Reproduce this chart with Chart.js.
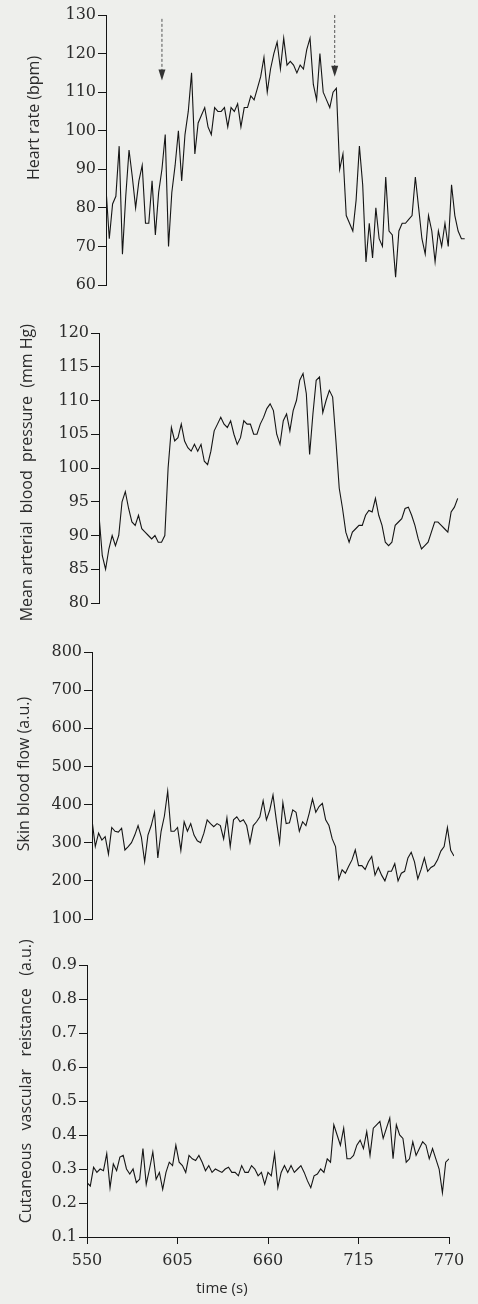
<!DOCTYPE html>
<html>
<head>
<meta charset="utf-8">
<script src="https://cdn.jsdelivr.net/npm/chart.js@4.4.1/dist/chart.umd.min.js"></script>
<style>
  body { margin: 0; background: #eeefec; }
  #wrap { position: relative; width: 478px; height: 1304px; overflow: hidden; }
  .panel { position: absolute; left: 0; width: 478px; }
</style>
</head>
<body>
<div id="wrap">
  <div class="panel" style="top:0;height:300px"><canvas id="hr"></canvas></div>
  <div class="panel" style="top:300px;height:330px"><canvas id="map"></canvas></div>
  <div class="panel" style="top:620px;height:320px"><canvas id="sbf"></canvas></div>
  <div class="panel" style="top:920px;height:384px"><canvas id="cvr"></canvas></div>
</div>
<script>
// time (s), every 2 s
const times = [
  550, 552, 554, 556, 558, 560, 562, 564, 566, 568,
  570, 572, 574, 576, 578, 580, 582, 584, 586, 588,
  590, 592, 594, 596, 598, 600, 602, 604, 606, 608,
  610, 612, 614, 616, 618, 620, 622, 624, 626, 628,
  630, 632, 634, 636, 638, 640, 642, 644, 646, 648,
  650, 652, 654, 656, 658, 660, 662, 664, 666, 668,
  670, 672, 674, 676, 678, 680, 682, 684, 686, 688,
  690, 692, 694, 696, 698, 700, 702, 704, 706, 708,
  710, 712, 714, 716, 718, 720, 722, 724, 726, 728,
  730, 732, 734, 736, 738, 740, 742, 744, 746, 748,
  750, 752, 754, 756, 758, 760, 762, 764, 766, 768,
  770
]

// heart rate (bpm)
const heartRate = [
  85, 72, 81, 83, 96, 68, 83, 95, 88, 80,
  87, 91, 76, 76, 87, 73, 84, 90, 99, 70,
  84, 91, 100, 87, 99, 105, 115, 94, 102, 104,
  106, 101, 99, 106, 105, 105, 106, 101, 106, 105,
  107, 101, 106, 106, 109, 108, 111, 114, 119, 110,
  116, 120, 123, 116, 124, 117, 118, 117, 115, 117,
  116, 121, 124, 112, 108, 120, 110, 108, 106, 110,
  111, 90, 94, 78, 76, 74, 82, 96, 86, 66,
  76, 67, 80, 72, 70, 88, 74, 73, 62, 74,
  76, 76, 77, 78, 88, 80, 72, 68, 78, 74,
  66, 74, 70, 76, 70, 86, 78, 74, 72, 72
]

// mean arterial blood pressure (mm Hg)
const meanPressure = [
  93, 87, 85, 88, 90, 88.5, 90, 95, 96.5, 94,
  92, 91.5, 93, 91, 90.5, 90, 89.5, 90, 89, 89,
  90, 100, 106, 104, 104.5, 106.5, 104, 103, 102.5, 103.5,
  102.5, 103.5, 101, 100.5, 102.5, 105.5, 106.5, 107.5, 106.5, 106,
  107, 105, 103.5, 104.5, 107, 106.5, 106.5, 105, 105, 106.5,
  107.5, 108.8, 109.5, 108.5, 105, 103.5, 107, 108, 105.5, 108.5,
  110, 113, 114, 111, 102, 108, 113, 113.5, 108.2, 110,
  111.5, 110.5, 104, 97, 94, 90.5, 89, 90.5, 91, 91.5,
  91.5, 93, 93.7, 93.5, 95.5, 93, 91.5, 89, 88.5, 89,
  91.5, 92, 92.5, 94, 94.2, 93, 91.5, 89.5, 88, 88.5,
  89, 90.5, 92, 92, 91.5, 91, 90.5, 93.5, 94.2, 95.5
]

// skin blood flow (a.u.)
const skinFlow = [
  360, 290, 325, 307, 316, 270, 340, 330, 328, 338,
  281, 290, 300, 320, 345, 315, 250, 320, 345, 380,
  260, 330, 370, 435, 330, 330, 340, 280, 355, 330,
  350, 320, 305, 300, 325, 360, 350, 342, 350, 345,
  310, 365, 290, 360, 368, 355, 360, 345, 300, 345,
  355, 368, 410, 360, 385, 425, 360, 300, 405, 350,
  352, 386, 380, 330, 355, 345, 377, 415, 380, 395,
  403, 360, 345, 310, 290, 205, 229, 220, 238, 255,
  281, 240, 240, 230, 250, 264, 215, 235, 215, 200,
  225, 225, 245, 200, 220, 225, 260, 275, 250, 205,
  230, 260, 225, 235, 240, 255, 278, 290, 340, 280,
  265
]

// cutaneous vascular resistance (a.u.)
const resistance = [
  0.26, 0.25, 0.305, 0.29, 0.30, 0.295, 0.345, 0.245, 0.315, 0.295,
  0.335, 0.34, 0.30, 0.285, 0.30, 0.26, 0.27, 0.36, 0.255, 0.30,
  0.35, 0.27, 0.29, 0.24, 0.29, 0.32, 0.31, 0.37, 0.32, 0.31,
  0.29, 0.34, 0.33, 0.325, 0.34, 0.32, 0.295, 0.31, 0.29, 0.30,
  0.295, 0.29, 0.30, 0.305, 0.29, 0.29, 0.28, 0.31, 0.29, 0.29,
  0.31, 0.30, 0.28, 0.29, 0.255, 0.29, 0.28, 0.345, 0.245, 0.29,
  0.31, 0.29, 0.31, 0.29, 0.30, 0.31, 0.29, 0.265, 0.245, 0.28,
  0.285, 0.30, 0.29, 0.33, 0.32, 0.43, 0.40, 0.37, 0.42, 0.33,
  0.33, 0.34, 0.37, 0.385, 0.36, 0.41, 0.34, 0.42, 0.43, 0.44,
  0.39, 0.42, 0.45, 0.33, 0.43, 0.40, 0.39, 0.32, 0.33, 0.38,
  0.34, 0.36, 0.38, 0.37, 0.33, 0.36, 0.33, 0.30, 0.23, 0.32,
  0.33
]

// dashed arrows in the heart rate panel
const arrowTimes = [584, 689]
const arrowTops = [129, 130]
const arrowTips = [113, 114]

const xTicks = [550, 605, 660, 715, 770]

const ink = '#151515'
const textInk = '#2b2b2b'
const serif = '"DejaVu Serif", serif'
const sans = '"Open Sans", sans-serif'

const sideTitle = {
  id: 'sideTitle',
  afterDraw(chart, args, opts) {
    const ctx = chart.ctx
    const y = chart.scales.y.getPixelForValue(opts.at)
    ctx.save()
    ctx.translate(opts.x, y)
    ctx.rotate(-Math.PI / 2)
    ctx.font = '16px ' + sans
    ctx.fillStyle = textInk
    ctx.textAlign = 'center'
    ctx.textBaseline = 'middle'
    ctx.fillText(opts.text, 0, 0)
    ctx.restore()
  },
}

const arrows = {
  id: 'arrows',
  afterDatasetsDraw(chart) {
    const ctx = chart.ctx
    const xs = chart.scales.x
    const ys = chart.scales.y
    ctx.save()
    arrowTimes.forEach((t, i) => {
      const x = xs.getPixelForValue(t)
      const top = ys.getPixelForValue(arrowTops[i])
      const tip = ys.getPixelForValue(arrowTips[i])
      ctx.strokeStyle = '#555'
      ctx.lineWidth = 1
      ctx.setLineDash([3, 2])
      ctx.beginPath()
      ctx.moveTo(x, top)
      ctx.lineTo(x, tip - 10)
      ctx.stroke()
      ctx.setLineDash([])
      ctx.fillStyle = '#333'
      ctx.beginPath()
      ctx.moveTo(x - 3.5, tip - 11)
      ctx.lineTo(x + 3.5, tip - 11)
      ctx.lineTo(x, tip)
      ctx.closePath()
      ctx.fill()
    })
    ctx.restore()
  },
}

const timeTitle = {
  id: 'timeTitle',
  afterDraw(chart) {
    const ctx = chart.ctx
    ctx.save()
    ctx.font = '15px ' + sans
    ctx.fillStyle = textInk
    ctx.textAlign = 'center'
    ctx.textBaseline = 'middle'
    ctx.fillText('time (s)', chart.scales.x.getPixelForValue(632), chart.chartArea.bottom + 52)
    ctx.restore()
  },
}

function makePanel(id, p) {
  const points = p.values.map((v, i) => ({ x: times[i], y: v }))
  const plugins = [sideTitle]
  if (p.arrows) plugins.push(arrows)
  if (p.showX) plugins.push(timeTitle)

  new Chart(document.getElementById(id), {
    type: 'line',
    data: {
      datasets: [
        {
          data: points,
          borderColor: ink,
          borderWidth: 1.1,
          pointRadius: 0,
          tension: 0,
          fill: false,
        },
      ],
    },
    plugins: plugins,
    options: {
      responsive: true,
      maintainAspectRatio: false,
      animation: false,
      events: [],
      layout: { padding: p.padding },
      plugins: {
        legend: { display: false },
        tooltip: { enabled: false },
        sideTitle: { text: p.title, x: p.titleX, at: p.titleAt },
      },
      scales: {
        x: {
          type: 'linear',
          display: !!p.showX,
          min: 550,
          max: 770,
          afterFit: (s) => { s.height = p.showX ? 30 : 0 },
          afterBuildTicks: (s) => { s.ticks = xTicks.map((v) => ({ value: v })) },
          grid: { display: true, drawOnChartArea: false, drawTicks: true, tickLength: 7, color: ink },
          border: { display: true, color: ink, width: 1 },
          ticks: { color: textInk, padding: 7, maxRotation: 0, font: { family: serif, size: 16 } },
        },
        y: {
          type: 'linear',
          min: p.min,
          max: p.max,
          afterFit: (s) => { s.width = p.axisX },
          ticks: {
            stepSize: p.step,
            color: textInk,
            padding: 2,
            font: { family: serif, size: 16 },
            callback: p.format || ((v) => v),
          },
          grid: { display: true, drawOnChartArea: false, drawTicks: true, tickLength: 8, color: ink },
          border: { display: true, color: ink, width: 1 },
        },
      },
    },
  })
}

makePanel('hr', {
  values: heartRate, min: 60, max: 130, step: 10, axisX: 106,
  padding: { top: 15, bottom: 15, left: 0, right: 10 },
  title: 'Heart rate (bpm)', titleX: 34, titleAt: 103.3, arrows: true,
})
makePanel('map', {
  values: meanPressure, min: 80, max: 120, step: 5, axisX: 99,
  padding: { top: 33, bottom: 27, left: 0, right: 17 },
  title: 'Mean arterial  blood  pressure  (mm Hg)', titleX: 27, titleAt: 99.3,
})
makePanel('sbf', {
  values: skinFlow, min: 100, max: 800, step: 100, axisX: 92,
  padding: { top: 32, bottom: 21, left: 0, right: 24 },
  title: 'Skin blood flow (a.u.)', titleX: 24, titleAt: 480,
})
makePanel('cvr', {
  values: resistance, min: 0.1, max: 0.9, step: 0.1, axisX: 87,
  padding: { top: 45, bottom: 37, left: 0, right: 29 },
  title: 'Cutaneous   vascular   reistance   (a.u.)', titleX: 26, titleAt: 0.558,
  format: (v) => v.toFixed(1), showX: true,
})
</script>
</body>
</html>
